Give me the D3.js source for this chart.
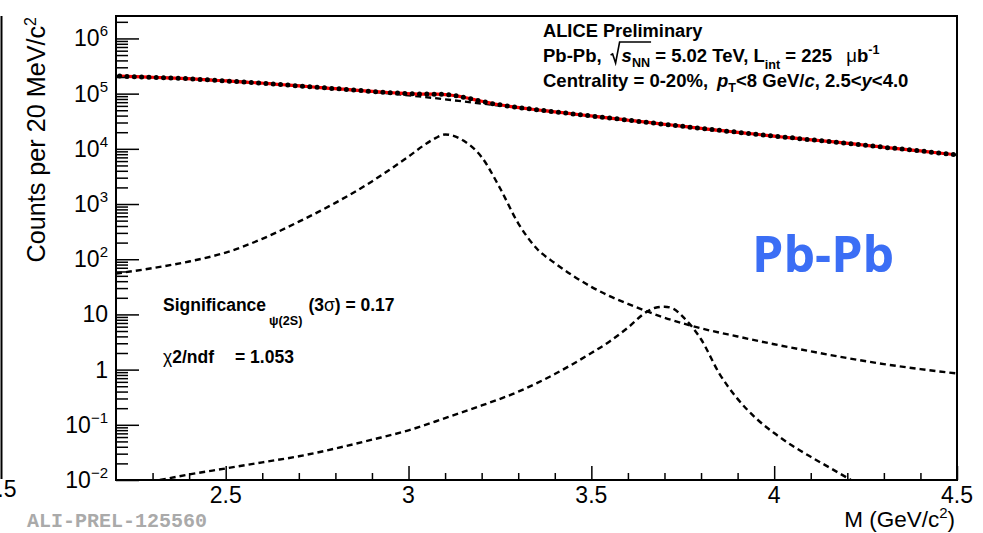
<!DOCTYPE html>
<html>
<head>
<meta charset="utf-8">
<title>psi(2S) Pb-Pb</title>
<script src="https://cdn.jsdelivr.net/npm/d3@7"></script>
<style>
body {margin: 0; background: white;}
text {font-family: "Liberation Sans", Arial, sans-serif; fill: black;}
</style>
</head>
<body>
<svg width="983" height="533"></svg>
<script>
// histogram: 20 MeV bins starting at 2.2
const binStart = 2.2, binWidth = 0.02;
const counts = [
  207700, 205400, 203000, 200700, 198400, 196200, 193900, 191700, 189500, 187400,
  184500, 181100, 177800, 174600, 171400, 168300, 165200, 162200, 159200, 156300,
  153100, 149600, 146200, 142900, 139600, 136500, 133400, 130300, 127400, 124500,
  122400, 119300, 116300, 113500, 110800, 108500, 106200, 104200, 102400, 100900,
  99400, 98200, 98200, 97700, 97200, 95300, 91100, 86100, 80600, 75200,
  70500, 65900, 62600, 59600, 57100, 55000, 53000, 51000, 49300, 47600,
  46000, 44400, 42900, 41400, 40000, 38700, 37400, 36100, 34900, 33700,
  32500, 31400, 30400, 29300, 28300, 27400, 26500, 25600, 24700, 23900,
  23100, 22300, 21600, 20900, 20300, 19600, 19000, 18400, 17800, 17300,
  16700, 16200, 15800, 15300, 14800, 14400, 14000, 13600, 13200, 12800,
  12400, 12000, 11600, 11200, 10900, 10500, 10200, 9900, 9600, 9300,
  9000, 8700, 8400, 8150, 7900
];

// fit components (dashed)
const bkgMass = [2.2, 2.4, 2.6, 2.8, 3.0, 3.2, 3.4, 3.6, 3.8, 4.0, 4.2, 4.4, 4.5];
const bkgVal  = [208900, 186200, 154900, 123000, 93300, 66100, 46800, 33100, 23400, 17000, 12600, 9100, 7760];

const jpsiMass = [2.2, 2.3, 2.4, 2.5, 2.6, 2.7, 2.8, 2.9, 3.0, 3.05, 3.075, 3.1, 3.125, 3.15, 3.2, 3.25, 3.3, 3.35,
                  3.4, 3.45, 3.5, 3.55, 3.6, 3.65, 3.7, 3.75, 3.8, 3.9, 4.0, 4.1, 4.2, 4.3, 4.4, 4.5];
const jpsiVal  = [55, 69, 91, 132, 234, 479, 1050, 2570, 7240, 12600, 15800, 18200, 17000, 14100, 7080, 1950, 447, 158,
                  85, 50, 31.6, 21.4, 15.5, 11.5, 8.7, 6.9, 5.6, 3.98, 2.88, 2.14, 1.62, 1.26, 1.02, 0.85];

const psi2sMass = [2.32, 2.4, 2.5, 2.6, 2.7, 2.8, 2.9, 3.0, 3.1, 3.2, 3.3, 3.4, 3.5, 3.55, 3.6, 3.65, 3.675, 3.7, 3.725,
                   3.75, 3.8, 3.85, 3.9, 3.95, 4.0, 4.05, 4.1, 4.15, 4.21];
const psi2sVal  = [0.010, 0.0126, 0.0162, 0.0209, 0.0269, 0.0372, 0.0537, 0.0794, 0.132, 0.224, 0.398, 0.832, 2.0, 3.24,
                   5.75, 11.0, 13.2, 13.8, 12.6, 9.1, 3.55, 0.85, 0.295, 0.132, 0.0708, 0.0417, 0.0263, 0.017, 0.010];

const xTicks = [2.5, 3, 3.5, 4, 4.5];
const xTickLabels = ["2.5", "3", "3.5", "4", "4.5"];
const yDecades = [-2, -1, 0, 1, 2, 3, 4, 5, 6];

const svg = d3.select("svg");
const L = 116, R = 957, T = 16, B = 480;

const x = d3.scaleLinear().domain([2.2, 4.5]).range([L, R]);
const y = d3.scaleLog().domain([1e-2, 2.55e6]).range([B, T]);

svg.append("clipPath").attr("id", "clip")
  .append("rect").attr("x", L).attr("y", T).attr("width", R - L).attr("height", B - T);

const plot = svg.append("g").attr("clip-path", "url(#clip)");

const line = d3.line().x(d => x(d[0])).y(d => y(d[1])).curve(d3.curveMonotoneX);

function dashed(mass, vals) {
  plot.append("path")
    .attr("d", line(mass.map((m, i) => [m, vals[i]])))
    .attr("fill", "none")
    .attr("stroke", "black")
    .attr("stroke-width", 2.4)
    .attr("stroke-dasharray", "6,4");
}
dashed(bkgMass, bkgVal);
dashed(jpsiMass, jpsiVal);
dashed(psi2sMass, psi2sVal);

const pts = counts.map((c, i) => [binStart + binWidth * (i + 0.5), c]);

plot.append("path")
  .attr("d", line(pts))
  .attr("fill", "none")
  .attr("stroke", "red")
  .attr("stroke-width", 3.2);

plot.selectAll("circle.pt").data(pts).enter().append("circle")
  .attr("class", "pt")
  .attr("cx", d => x(d[0]))
  .attr("cy", d => y(d[1]))
  .attr("r", 2.5)
  .attr("fill", "black");

// axes
const yMajor = yDecades.map(e => Math.pow(10, e));
const yMinor = [];
yDecades.forEach(e => { for (let k = 2; k <= 9; k++) { const v = k * Math.pow(10, e); if (v < 2.55e6) yMinor.push(v); } });

function styleAxis(g) {
  g.select(".domain").remove();
  g.selectAll(".tick line").attr("stroke", "black").attr("stroke-width", 1.5);
  g.selectAll(".tick text").remove();
}

svg.append("g").attr("transform", `translate(${L},0)`)
  .call(d3.axisLeft(y).tickValues(yMajor).tickSize(-23).tickFormat(""))
  .call(styleAxis);
svg.append("g").attr("transform", `translate(${L},0)`)
  .call(d3.axisLeft(y).tickValues(yMinor).tickSize(-12).tickFormat(""))
  .call(styleAxis);

const xMinor = d3.range(23, 45).map(v => v / 10).filter(v => Math.abs(v * 2 - Math.round(v * 2)) > 1e-6);
svg.append("g").attr("transform", `translate(0,${B})`)
  .call(d3.axisBottom(x).tickValues(xTicks).tickSize(-14).tickFormat(""))
  .call(styleAxis);
svg.append("g").attr("transform", `translate(0,${B})`)
  .call(d3.axisBottom(x).tickValues(xMinor).tickSize(-7).tickFormat(""))
  .call(styleAxis);

// frame
svg.append("rect").attr("x", L).attr("y", T).attr("width", R - L).attr("height", B - T)
  .attr("fill", "none").attr("stroke", "black").attr("stroke-width", 2);

// tick labels
svg.selectAll("text.xl").data(xTicks).enter().append("text")
  .attr("class", "xl")
  .attr("x", d => x(d)).attr("y", 503)
  .attr("text-anchor", "middle").attr("font-size", 23)
  .text((d, i) => xTickLabels[i]);

yDecades.forEach(e => {
  const t = svg.append("text").attr("x", 108).attr("y", y(Math.pow(10, e)) + 8)
    .attr("text-anchor", "end").attr("font-size", 23);
  if (e === 0) t.text("1");
  else if (e === 1) t.text("10");
  else {
    t.append("tspan").text("10");
    t.append("tspan").attr("dy", -10).attr("font-size", 15).text(e < 0 ? "\u2212" + (-e) : e);
  }
});

// axis titles
const xt = svg.append("text").attr("x", 955).attr("y", 527).attr("text-anchor", "end").attr("font-size", 22.5);
xt.append("tspan").text("M (GeV/c");
xt.append("tspan").attr("dy", -9).attr("font-size", 15).text("2");
xt.append("tspan").attr("dy", 9).text(")");

const yt = svg.append("text").attr("transform", "translate(45,17) rotate(-90)")
  .attr("text-anchor", "end").attr("font-size", 25.2);
yt.append("tspan").text("Counts per 20 MeV/c");
yt.append("tspan").attr("dy", -9).attr("font-size", 16).text("2");

// rich text helper: parts with sub/sup/italic/normal
function rich(xp, yp, size, parts) {
  const t = svg.append("text").attr("x", xp).attr("y", yp)
    .attr("font-size", size).attr("font-weight", "bold");
  let shift = 0;
  parts.forEach(p => {
    const ts = t.append("tspan").text(p.t);
    const target = p.sub ? (p.off || 5) : p.sup ? -(p.off || 7) : 0;
    if (target !== shift) { ts.attr("dy", target - shift); shift = target; }
    if (p.sub || p.sup) ts.attr("font-size", size * (p.scale || 0.68));
    if (p.it) ts.attr("font-style", "italic");
    if (p.normal) ts.attr("font-weight", "normal");
    if (p.dx) ts.attr("dx", p.dx);
    if (p.cls) ts.attr("class", p.cls);
  });
  return t;
}

rich(543, 37, 18.3, [{t: "ALICE Preliminary"}]);

const l2 = rich(543, 62, 18.5, [
  {t: "Pb-Pb,"},
  {t: "s", it: true, dx: 20, cls: "sq0"},
  {t: "NN", sub: true, off: 5, cls: "sq1"},
  {t: " = 5.02 TeV, L"},
  {t: "int", sub: true, off: 7},
  {t: " = 225 "},
  {t: "\u03bc", normal: true, dx: 9},
  {t: "b"},
  {t: "-1", sup: true, off: 8}
]);
// radical sign over s_NN
{
  const s0 = l2.select(".sq0").node(), s1 = l2.select(".sq1").node();
  const xs = s0.getStartPositionOfChar(0).x;
  const xe = s1.getEndPositionOfChar(1).x + 1;
  const by = 62;
  svg.append("path")
    .attr("d", `M${xs - 11},${by - 7} L${xs - 9},${by - 8} L${xs - 6},${by + 1} L${xs - 2},${by - 20} L${xe},${by - 20}`)
    .attr("fill", "none").attr("stroke", "black").attr("stroke-width", 1.6);
}

rich(543, 87, 18.5, [
  {t: "Centrality = 0-20%,"},
  {t: "p", it: true, dx: 9},
  {t: "T", sub: true, off: 5},
  {t: "<8 GeV/"},
  {t: "c", it: true},
  {t: ", 2.5<"},
  {t: "y", it: true},
  {t: "<4.0"}
]);

rich(163, 311, 17.5, [
  {t: "Significance"},
  {t: "\u03c8(2S)", sub: true, off: 14, scale: 0.72, dx: 3},
  {t: "(3", dx: 6},
  {t: "\u03c3", normal: true},
  {t: ") = 0.17"}
]);

rich(163, 363, 17.5, [
  {t: "\u03c7", normal: true},
  {t: "2/ndf"},
  {t: "= 1.053", dx: 21}
]);

svg.append("text").attr("x", 752).attr("y", 272)
  .style("font-family", "'Open Sans', sans-serif")
  .attr("font-weight", "bold").attr("font-size", 50)
  .style("fill", "#3b6ef5")
  .text("Pb-Pb");

// neighbouring panel remnants and preliminary ID
svg.append("line").attr("x1", 1.5).attr("x2", 1.5).attr("y1", 16).attr("y2", 479)
  .attr("stroke", "black").attr("stroke-width", 2);
svg.append("text").attr("x", 16.5).attr("y", 497).attr("text-anchor", "end").attr("font-size", 23).text("4.5");

svg.append("text").attr("x", 27).attr("y", 527)
  .style("font-family", "'Liberation Mono', monospace")
  .attr("font-weight", "bold").attr("font-size", 20)
  .style("fill", "#aaaaaa")
  .text("ALI-PREL-125560");
</script>
</body>
</html>
